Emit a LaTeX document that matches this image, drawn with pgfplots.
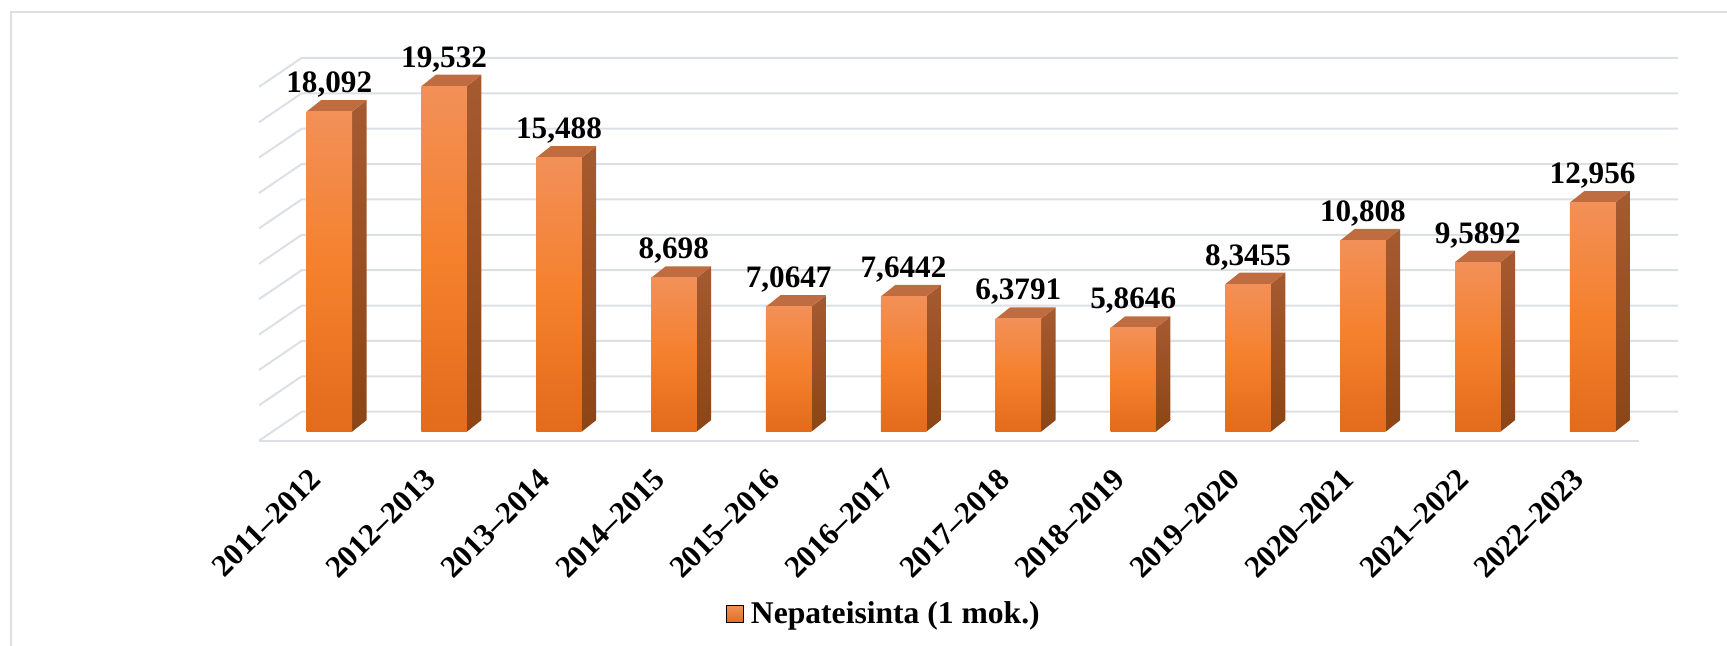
\documentclass[border=0pt]{standalone}
\usepackage{pgfplots}
\pgfplotsset{compat=1.18}
\usepackage{pgfplotstable}
\usepackage{fontspec}
\setmainfont{Liberation Serif}
\definecolor{gridc}{HTML}{DCDFE6}
\definecolor{frontT}{HTML}{F29058}
\definecolor{frontM}{HTML}{F5802C}
\definecolor{frontB}{HTML}{E26B1C}
\definecolor{sideT}{HTML}{A65A30}
\definecolor{sideB}{HTML}{8C4514}
\definecolor{topc}{HTML}{BF6C40}

\pgfplotstableread{
x v lab
0 18.092 18,092
1 19.532 19,532
2 15.488 15,488
3 8.698 8,698
4 7.0647 7,0647
5 7.6442 7,6442
6 6.3791 6,3791
7 5.8646 5,8646
8 8.3455 8,3455
9 10.808 10,808
10 9.5892 9,5892
11 12.956 12,956
}\datatable

\def\hw{0.198}
\def\dpx{0.126}
\def\dpy{0.650}

\begin{document}
\begin{tikzpicture}
\begin{axis}[
  x=57.425pt, y=8.845pt,
  xmin=-0.7, xmax=11.8, ymin=-2.385, ymax=21.5,
  axis line style={draw=none},
  tick style={draw=none},
  ytick=\empty,
  xtick={0,...,11},
  xticklabels={2011–2012,2012–2013,2013–2014,2014–2015,2015–2016,2016–2017,2017–2018,2018–2019,2019–2020,2020–2021,2021–2022,2022–2023},
  xticklabel style={xshift=-7pt, rotate=45, anchor=east, inner sep=0pt, font=\bfseries\fontsize{15.5}{18}\selectfont},
  clip=false,
  legend style={at={(axis cs:3.454,-10.32)}, anchor=west, draw=none, fill=none,
    inner sep=0pt, column sep=0pt, nodes={inner sep=0pt},
    font=\bfseries\fontsize{15.8}{19}\selectfont},
]
% frame
\draw[gridc, line width=1pt] (axis cs:-2.771,-12.2) -- (axis cs:-2.771,23.725) -- (axis cs:12.3,23.725);
% grid
\pgfplotsinvokeforeach{0,2,...,20}{
  \draw[gridc, line width=1pt] (axis cs:-0.612,#1-0.509) -- (axis cs:-0.240,#1+1.131) -- (axis cs:11.743,#1+1.131);
}
\draw[gridc, line width=1pt] (axis cs:-0.612,-0.509) -- (axis cs:11.404,-0.509);

\addlegendimage{legend image code/.code={\shade[top color=frontT, bottom color=frontB] (0pt,-4.2pt) rectangle (8.4pt,4.2pt);}}
\addlegendentry{\hspace*{3.5pt}Nepateisinta (1 mok.)}

\pgfplotsinvokeforeach{0,...,11}{
  \pgfplotstablegetelem{#1}{v}\of\datatable
  \pgfmathsetmacro\bv{\pgfplotsretval}
  \pgfmathsetmacro\bxl{#1-\hw}
  \pgfmathsetmacro\bxr{#1+\hw}
  \pgfmathsetmacro\bxll{#1-\hw+\dpx}
  \pgfmathsetmacro\bxrr{#1+\hw+\dpx}
  \pgfmathsetmacro\bvt{\bv+\dpy}
  \addplot[forget plot, draw=none, top color=sideT, bottom color=sideB]
    coordinates {(\bxr,0) (\bxrr,\dpy) (\bxrr,\bvt) (\bxr,\bv)} -- cycle;
  \addplot[forget plot, draw=none, fill=topc]
    coordinates {(\bxl,\bv) (\bxr,\bv) (\bxrr,\bvt) (\bxll,\bvt)} -- cycle;
  \addplot[forget plot, draw=none, top color=frontT, bottom color=frontB, middle color=frontM]
    coordinates {(\bxl,0) (\bxr,0) (\bxr,\bv) (\bxl,\bv)} -- cycle;
}

\addplot[forget plot, only marks, mark=none, point meta=explicit symbolic,
  nodes near coords,
  every node near coord/.append style={anchor=base, yshift=9.5pt, inner sep=0pt, text=black,
    font=\bfseries\fontsize{15.6}{18}\selectfont}]
  table[x=x, y=v, meta=lab] {\datatable};

\coordinate (TL) at (axis cs:-2.8672,24.403);
\coordinate (BR) at (axis cs:12.170,-12.114);
\end{axis}
\pgfresetboundingbox
\path[use as bounding box] (TL) rectangle (BR);
\end{tikzpicture}
\end{document}
